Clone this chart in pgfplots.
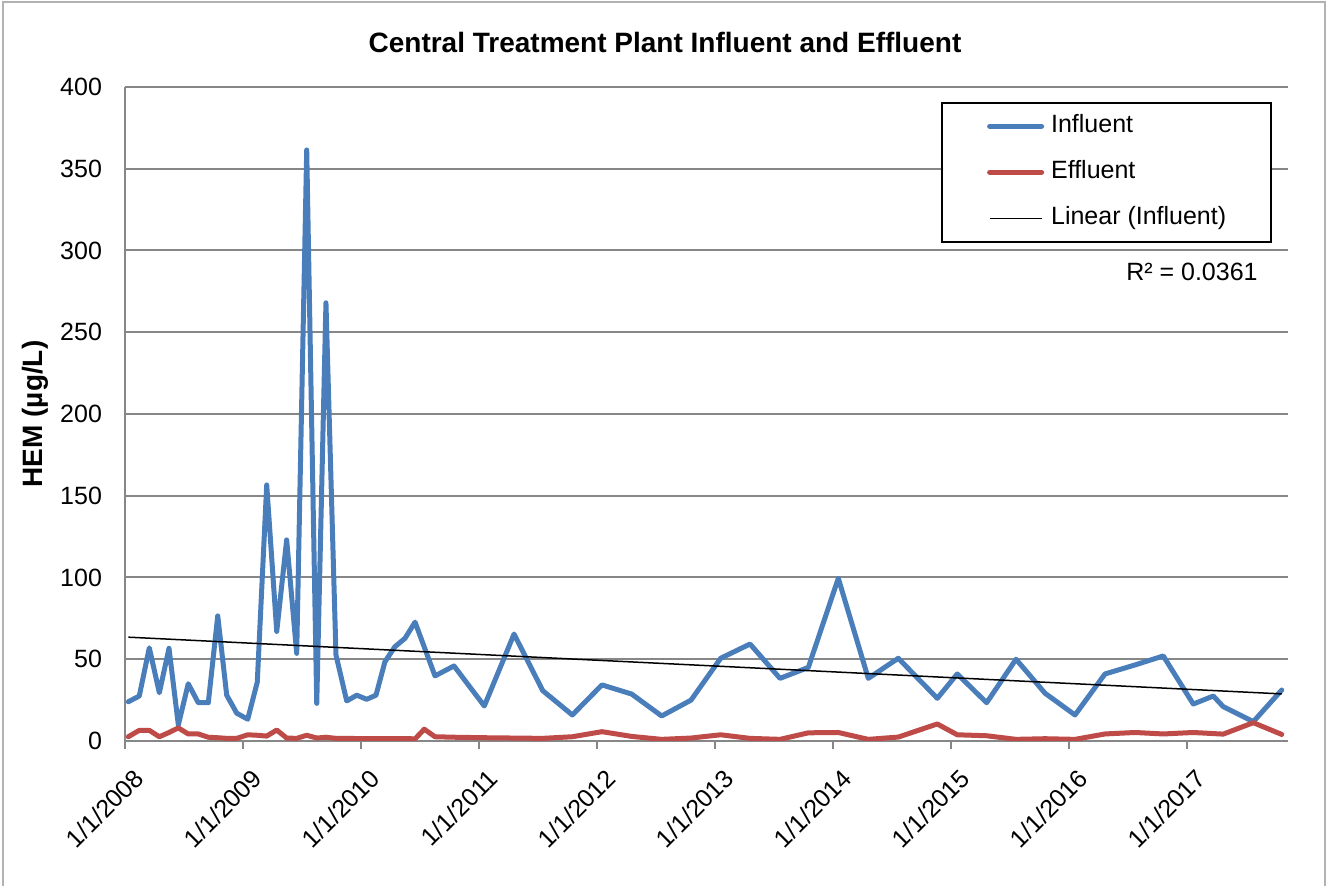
\documentclass[border=0pt]{standalone}
\usepackage{fontspec}
\setmainfont{Liberation Sans}
\usepackage{pgfplots}
\pgfplotsset{compat=1.18}
\definecolor{infl}{HTML}{4A7EBB}
\definecolor{effl}{HTML}{BE4B48}
\definecolor{gridgray}{HTML}{878787}
\newcommand{\lbl}{\fontsize{12.5bp}{15bp}\selectfont}
\newcommand{\ttl}{\fontsize{14bp}{17bp}\selectfont}

% x = years since 1/1/2008
\pgfplotstableread{
t     v
0.028 24
0.121 27.5
0.206 57
0.291 29.5
0.373 56.7
0.452 9.8
0.536 35
0.621 23.4
0.706 23.4
0.786 76.5
0.862 28
0.947 17
1.040 13.3
1.121 36
1.201 156.6
1.286 67
1.370 123
1.455 53.6
1.540 361.5
1.625 23
1.703 268
1.788 52.6
1.879 24.5
1.964 28
2.048 25.5
2.127 28
2.203 48.5
2.288 57.7
2.373 62.8
2.458 72.7
2.627 39.8
2.788 45.9
3.045 21.4
3.297 65.4
3.540 30.8
3.791 15.9
4.042 34.3
4.294 28.7
4.548 15.3
4.797 25
5.048 50.6
5.297 59.3
5.551 38.3
5.791 45
6.045 99.5
6.299 38.3
6.553 50.6
6.884 26.1
7.053 41
7.302 23.4
7.551 50
7.797 29.2
8.051 15.9
8.305 41
8.559 46.5
8.799 52
9.053 22.6
9.223 27.5
9.307 21
9.562 11.8
9.803 31.2
}\influent

\pgfplotstableread{
t     v
0.028 2.6
0.121 6.5
0.206 6.5
0.291 2.6
0.373 5.2
0.452 8.0
0.536 4.3
0.621 4.3
0.706 2.3
0.786 2.0
0.862 1.6
0.947 1.6
1.040 3.8
1.121 3.5
1.201 3.0
1.286 6.7
1.370 1.8
1.455 1.6
1.540 3.5
1.625 1.8
1.703 2.3
1.788 1.6
1.879 1.6
1.964 1.5
2.048 1.5
2.127 1.5
2.203 1.5
2.288 1.5
2.373 1.5
2.458 1.3
2.536 7.2
2.627 2.6
2.788 2.3
3.045 2.0
3.297 1.8
3.540 1.6
3.791 2.6
4.042 5.7
4.294 2.8
4.548 1.0
4.797 1.8
5.048 3.8
5.297 1.6
5.551 1.0
5.791 5.0
6.045 5.2
6.299 1.0
6.553 2.4
6.884 10.4
7.053 3.8
7.302 3.2
7.551 1.0
7.797 1.4
8.051 1.0
8.305 4.3
8.559 5.2
8.799 4.3
9.053 5.2
9.307 4.2
9.562 11.2
9.803 4.0
}\effluent

\begin{document}
\begin{tikzpicture}
\begin{axis}[
    scale only axis,
    width=581.5bp,
    height=327bp,
    xmin=0, xmax=9.856,
    ymin=0, ymax=400,
    ytick={0,50,...,400},
    xtick={0,...,9},
    xticklabels={1/1/2008,1/1/2009,1/1/2010,1/1/2011,1/1/2012,1/1/2013,1/1/2014,1/1/2015,1/1/2016,1/1/2017},
    axis x line*=bottom,
    axis y line*=left,
    x axis line style={-, draw=gridgray, line width=1bp},
    y axis line style={-, draw=gridgray, line width=1bp},
    xtick align=outside,
    major tick length=3.85bp,
    xtick style={draw=gridgray, line width=1bp},
    ytick style={draw=none},
    ymajorgrids,
    major grid style={draw=gridgray, line width=1bp},
    tick label style={font=\lbl},
    /pgf/number format/assume math mode=true,
    x tick label style={rotate=45, anchor=east, xshift=-0.5bp, yshift=-14bp},
    y tick label style={xshift=-8bp},
    every axis title shift=0pt,
    title={\textbf{Central Treatment Plant Influent and Effluent}},
    title style={font=\ttl, at={(0.4643,1.0673)}, anchor=center},
    ylabel={\textbf{HEM (µg/L)}},
    ylabel style={font=\ttl, at={(-0.0774,0.5)}, anchor=center},
    legend cell align=left,
    legend image code/.code={\draw[#1] (0bp,0bp) -- (26bp,0bp);},
    legend style={
        at={(0.9862,0.977)}, anchor=north east,
        draw=black, line width=0.75bp,
        font=\lbl,
        inner xsep=22.5bp, inner ysep=6bp,
        row sep=11.5bp,
        nodes={inner sep=0pt, text height=9bp, text depth=2.5bp},
        /tikz/every even column/.append style={column sep=0pt},
        /tikz/every odd column/.append style={column sep=3.5bp},
    },
]
\addplot[infl, line width=2.5bp, line join=round, line cap=round] table[x=t, y=v] {\influent};
\addlegendentry{Influent}
\addplot[effl, line width=2.5bp, line join=round, line cap=round] table[x=t, y=v] {\effluent};
\addlegendentry{Effluent}
\addplot[black, line width=0.75bp] coordinates {(0.028,63.5) (9.803,28.8)};
\addlegendentry{Linear (Influent)}
\node[anchor=east, font=\lbl, inner sep=0pt] at (axis description cs:0.9742,0.7171) {R² = 0.0361};
\end{axis}
\draw[gray!60, line width=0.75bp]
    ([xshift=-61bp, yshift=-72.5bp]current axis.south west)
    -- ([xshift=-61bp, yshift=369.5bp]current axis.south west)
    -- ([xshift=600bp, yshift=369.5bp]current axis.south west)
    -- ([xshift=600bp, yshift=-72.5bp]current axis.south west);
\path ([xshift=-62.5bp, yshift=-72.5bp]current axis.south west) rectangle ([xshift=601bp, yshift=370.5bp]current axis.south west);
\end{tikzpicture}
\end{document}
